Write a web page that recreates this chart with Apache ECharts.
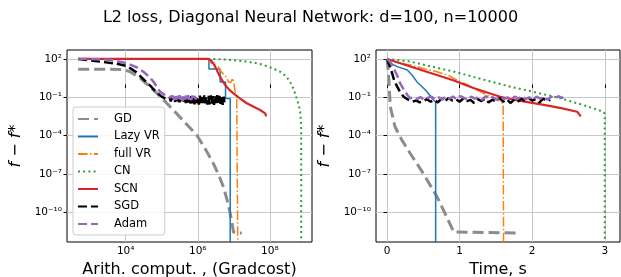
<!DOCTYPE html>
<html>
<head>
<meta charset="utf-8">
<script src="https://cdn.jsdelivr.net/npm/echarts@6/dist/echarts.min.js"></script>
<style>
html,body{margin:0;padding:0;background:#fff;}
#c{width:621px;height:277px;}
</style>
</head>
<body>
<div id="c"></div>
<script>
// ---- Data (x: log10 gradcost on left panel, seconds on right; y: log10(f - f*)) ----
const seriesNames = ['GD', 'Lazy VR', 'full VR', 'CN', 'SCN', 'SGD', 'Adam'];

// Tick positions
const xTicksLeft = [4, 6, 8];          // log10 gradcost
const xTicksRight = [0, 1, 2, 3];      // seconds
const yTicks = [-10, -7, -4, -1, 2];   // log10(f - f*)

// Left panel (x = log10 gradcost, y = log10 f-f*)
const gdGradcost = [[2.68,1.2],[3.5,1.2],[3.92,1.18],[4.12,1.0],[4.4,0.5],[4.67,-0.17],[5.0,-1.05],[5.32,-2.0],[5.65,-3.0],[5.97,-3.96],[6.2,-5.0],[6.43,-6.18],[6.6,-7.2],[6.71,-8.0],[6.82,-9.1],[6.9,-10.1],[6.96,-11.0],[6.99,-11.55],[7.05,-11.62],[7.22,-11.62]];
const lazyGradcost = [[2.68,2],[6.31,2],[6.31,1.22],[6.62,1.22],[6.62,0.2],[6.77,0.2],[6.77,-1.1],[6.9,-1.1],[6.9,-13]];
const fullGradcost = [[2.68,2],[6.3,2],[6.35,1.75],[6.42,1.55],[6.5,1.5],[6.57,1.4],[6.65,1.0],[6.72,0.8],[6.8,0.55],[6.85,0.2],[6.92,0.15],[6.97,0.5],[7.0,0.1],[7.04,-0.6],[7.08,-1.0],[7.11,-1.1],[7.11,-13]];
const cnGradcost = [[2.68,2],[6.3,2],[6.8,1.95],[7.36,1.79],[7.6,1.68],[7.82,1.53],[8.05,1.3],[8.29,1.0],[8.45,0.65],[8.56,0.22],[8.66,-0.35],[8.73,-0.96],[8.8,-1.6],[8.84,-2.13],[8.86,-2.8],[8.87,-3.3],[8.87,-13]];
const scnGradcost = [[2.68,2],[6.29,2],[6.36,1.9],[6.43,1.66],[6.5,1.3],[6.57,0.88],[6.66,0.4],[6.76,-0.04],[6.87,-0.4],[6.99,-0.69],[7.15,-1.05],[7.36,-1.47],[7.55,-1.75],[7.73,-2.0],[7.87,-2.26],[7.9,-2.5]];
const sgdGradcost = [[2.68,2],[3.28,1.79],[3.7,1.65],[4.03,1.45],[4.3,0.95],[4.49,0.41],[4.7,-0.15],[4.86,-0.64],[5.0,-0.95],[5.14,-1.16],
 [5.16,-1.10],[5.19,-1.28],[5.22,-1.05],[5.25,-1.32],[5.28,-1.12],[5.31,-1.25],[5.34,-1.02],[5.37,-1.35],[5.40,-1.10],[5.43,-1.30],
 [5.46,-1.00],[5.49,-1.38],[5.52,-1.08],[5.55,-1.42],[5.58,-0.98],[5.61,-1.33],[5.64,-1.12],[5.67,-1.45],[5.70,-0.95],[5.73,-1.40],
 [5.76,-1.05],[5.79,-1.50],[5.82,-0.92],[5.85,-1.48],[5.88,-1.02],[5.91,-1.55],[5.94,-0.90],[5.97,-1.45],[6.00,-0.95],[6.03,-1.58],
 [6.06,-0.88],[6.09,-1.52],[6.12,-1.00],[6.15,-1.60],[6.18,-0.86],[6.21,-1.48],[6.24,-0.95],[6.27,-1.57],[6.30,-0.90],[6.33,-1.55],
 [6.36,-0.85],[6.39,-1.50],[6.42,-0.92],[6.45,-1.60],[6.48,-0.88],[6.51,-1.45],[6.54,-0.84],[6.57,-1.58],[6.60,-0.90],[6.63,-1.52],
 [6.66,-0.86],[6.69,-1.60],[6.72,-0.95],[6.74,-1.40]];
const adamGradcost = [[2.68,2],[3.3,1.97],[3.57,1.92],[4.03,1.66],[4.3,1.35],[4.49,1.0],[4.65,0.6],[4.77,0.22],[4.87,-0.2],[4.95,-0.56],[5.1,-0.85],[5.23,-1.0],
 [5.25,-0.95],[5.28,-1.15],[5.31,-0.9],[5.34,-1.2],[5.37,-0.88],[5.40,-1.18],[5.43,-0.92],[5.46,-1.25],[5.49,-0.85],[5.52,-1.2],
 [5.55,-0.9],[5.58,-1.28],[5.61,-0.82],[5.64,-1.15],[5.67,-0.88],[5.70,-1.25],[5.73,-0.85],[5.76,-1.2],[5.79,-0.92],[5.82,-1.22],
 [5.85,-0.86],[5.88,-1.18],[5.91,-0.9],[5.94,-1.15],[5.97,-1.0]];

// Right panel (x = time in s, y = log10 f-f*)
const gdTime = [[0,2],[0.02,0.88],[0.045,-1.74],[0.11,-3.31],[0.2,-4.3],[0.32,-5.4],[0.5,-6.97],[0.69,-8.8],[0.8,-10.1],[0.92,-11.55],[1.81,-11.62]];
const lazyTime = [[0,2],[0.07,1.6],[0.14,1.4],[0.28,1.14],[0.35,0.7],[0.41,0.22],[0.53,-0.43],[0.62,-1.08],[0.67,-1.4],[0.67,-13]];
const fullTime = [[0,2],[0.15,1.7],[0.32,1.53],[0.5,1.25],[0.69,1.0],[0.85,0.7],[0.96,0.35],[1.1,0.0],[1.24,-0.43],[1.38,-0.82],[1.52,-1.2],[1.6,-1.5],[1.606,-1.6],[1.606,-13]];
const cnTime = [[0,2],[0.32,1.79],[0.7,1.3],[1.01,0.88],[1.35,0.35],[1.7,-0.17],[2.05,-0.62],[2.39,-1.08],[2.7,-1.6],[2.98,-2.13],[3.0,-2.3],[3.0,-13]];
const scnTime = [[0,2],[0.3,1.45],[0.6,0.9],[0.9,0.35],[1.2,-0.3],[1.56,-0.96],[1.8,-1.25],[2.16,-1.6],[2.4,-1.85],[2.62,-2.13],[2.67,-2.5]];
const sgdTime = [[0,2],[0.04,1.4],[0.07,0.88],[0.1,0.3],[0.14,-0.17],[0.18,-0.6],[0.23,-0.96],[0.28,-1.15],
 [0.30,-1.2],[0.35,-1.35],[0.40,-1.25],[0.45,-1.4],[0.50,-1.3],[0.55,-1.15],[0.60,-1.35],[0.65,-1.2],[0.70,-1.4],[0.75,-1.1],
 [0.80,-1.3],[0.85,-1.05],[0.90,-1.25],[0.95,-1.15],[1.00,-1.35],[1.05,-1.1],[1.10,-1.3],[1.15,-1.2],[1.20,-1.45],[1.25,-1.15],
 [1.30,-1.3],[1.35,-1.1],[1.40,-1.4],[1.45,-1.2],[1.50,-1.3],[1.55,-1.05],[1.60,-1.35],[1.65,-1.15],[1.70,-1.45],[1.75,-1.2],
 [1.80,-1.35],[1.85,-1.1],[1.90,-1.3],[1.95,-1.05],[2.00,-1.25],[2.05,-1.15],[2.10,-1.4],[2.15,-1.1],[2.20,-1.3],[2.25,-1.2]];
const adamTime = [[0,2],[0.05,1.7],[0.09,1.27],[0.14,0.7],[0.18,0.1],[0.23,-0.4],[0.28,-0.82],[0.32,-1.08],
 [0.36,-1.0],[0.41,-1.15],[0.46,-0.98],[0.51,-1.2],[0.56,-1.05],[0.61,-0.95],[0.66,-1.15],[0.71,-1.0],[0.76,-1.2],[0.81,-0.92],
 [0.86,-1.1],[0.91,-0.95],[0.96,-1.15],[1.01,-0.9],[1.06,-1.05],[1.11,-1.2],[1.16,-0.95],[1.21,-1.1],[1.26,-0.98],[1.31,-1.2],
 [1.36,-0.92],[1.41,-1.1],[1.46,-1.0],[1.51,-1.2],[1.56,-0.95],[1.61,-1.15],[1.66,-1.0],[1.71,-1.2],[1.76,-0.95],[1.81,-1.1],
 [1.86,-0.92],[1.91,-1.15],[1.96,-1.0],[2.01,-1.18],[2.06,-0.95],[2.11,-1.1],[2.16,-0.98],[2.21,-1.2],[2.26,-0.95],[2.31,-1.1],
 [2.36,-0.92],[2.41,-1.05],[2.43,-0.98]];

// ---- Chart ----
const SUP = {'0':'⁰','1':'¹','2':'²','3':'³','4':'⁴','5':'⁵','6':'⁶','7':'⁷','8':'⁸','9':'⁹','-':'⁻'};
function pow10(v){ return '10' + String(Math.round(v)).split('').map(c => SUP[c]).join(''); }

const FONT = 'DejaVu Sans';
const styles = {
  'GD':      {color:'#8c8c8c', width:3,   type:[11,5]},
  'Lazy VR': {color:'#1f77b4', width:1.5, type:'solid'},
  'full VR': {color:'#ff7f0e', width:1.5, type:[9.6,2.4,1.5,2.4]},
  'CN':      {color:'#2ca02c', width:2,   type:[2,3.2]},
  'SCN':     {color:'#d62728', width:2.2, type:'solid'},
  'SGD':     {color:'#000000', width:2.5, type:[9,4]},
  'Adam':    {color:'#9467bd', width:2.5, type:[9,4]}
};
const leftData  = [gdGradcost, lazyGradcost, fullGradcost, cnGradcost, scnGradcost, sgdGradcost, adamGradcost];
const rightData = [gdTime, lazyTime, fullTime, cnTime, scnTime, sgdTime, adamTime];

function mkSeries(name, data, idx){
  const s = styles[name];
  return {
    name, type:'line', xAxisIndex:idx, yAxisIndex:idx, data,
    symbol:'none', showSymbol:false, clip:true, silent:true, animation:false,
    lineStyle:{color:s.color, width:s.width, type:s.type, cap:'butt'},
    itemStyle:{color:s.color},
    emphasis:{disabled:true}
  };
}
const series = [];
seriesNames.forEach((n,i)=>series.push(mkSeries(n, leftData[i], 0)));
seriesNames.forEach((n,i)=>series.push(mkSeries(n, rightData[i], 1)));

const gridCommon = {show:true, borderColor:'#000', borderWidth:1, backgroundColor:'transparent',
  containLabel:false, outerBoundsMode:'none'};
const splitLine = {show:true, lineStyle:{color:'#c8c8c8', width:1}};
const tick = (vals) => ({show:true, customValues:vals, length:3.5, lineStyle:{color:'#000', width:1}});
const yName = {
  name:'f − f*', nameLocation:'middle', nameGap:43, nameRotate:90,
  nameTextStyle:{fontSize:16, fontStyle:'italic', color:'#000', fontFamily:FONT}
};

const option = {
  animation:false,
  textStyle:{fontFamily:FONT},
  title:{text:'L2 loss, Diagonal Neural Network: d=100, n=10000', left:'center', top:5,
    textStyle:{fontSize:16, fontWeight:'normal', color:'#000', fontFamily:FONT}},
  legend:{
    data:seriesNames, orient:'vertical', left:73, top:107,
    itemWidth:20, itemHeight:10, itemGap:3.5,
    padding:[5,5,4,4],
    backgroundColor:'rgba(255,255,255,0.85)', borderColor:'#cccccc', borderWidth:1, borderRadius:3,
    itemStyle:{opacity:0, borderWidth:0},
    textStyle:{fontSize:11.5, color:'#000', lineHeight:14, fontFamily:FONT, padding:[0,0,0,11]},
    selectedMode:false
  },
  grid:[
    Object.assign({left:67, top:50, width:245, height:192}, gridCommon),
    Object.assign({left:376, top:50, width:244, height:192}, gridCommon)
  ],
  xAxis:[
    {gridIndex:0, type:'value', min:2.37, max:9.17,
     axisLine:{show:false}, axisTick:tick(xTicksLeft),
     axisLabel:{customValues:xTicksLeft, formatter:pow10, fontSize:10.5, color:'#000', margin:4, fontFamily:FONT},
     splitLine:splitLine,
     name:'Arith. comput. , (Gradcost)', nameLocation:'middle', nameGap:17,
     nameTextStyle:{fontSize:16, color:'#000', fontFamily:FONT}},
    {gridIndex:1, type:'value', min:-0.152, max:3.21,
     axisLine:{show:false}, axisTick:tick(xTicksRight),
     axisLabel:{customValues:xTicksRight, formatter:v=>String(v), fontSize:10.5, color:'#000', margin:4, fontFamily:FONT},
     splitLine:splitLine,
     name:'Time, s', nameLocation:'middle', nameGap:17,
     nameTextStyle:{fontSize:16, color:'#000', fontFamily:FONT}}
  ],
  yAxis:[
    Object.assign({gridIndex:0, type:'value', min:-12.33, max:2.7,
     axisLine:{show:false}, axisTick:tick(yTicks),
     axisLabel:{customValues:yTicks, formatter:pow10, fontSize:10.5, color:'#000', margin:5, fontFamily:FONT},
     splitLine:splitLine}, yName),
    Object.assign({gridIndex:1, type:'value', min:-12.33, max:2.7,
     axisLine:{show:false}, axisTick:tick(yTicks),
     axisLabel:{customValues:yTicks, formatter:pow10, fontSize:10.5, color:'#000', margin:5, fontFamily:FONT},
     splitLine:splitLine}, yName)
  ],
  series
};

const chart = echarts.init(document.getElementById('c'), null, {renderer:'canvas'});
chart.setOption(option);
</script>
</body>
</html>
